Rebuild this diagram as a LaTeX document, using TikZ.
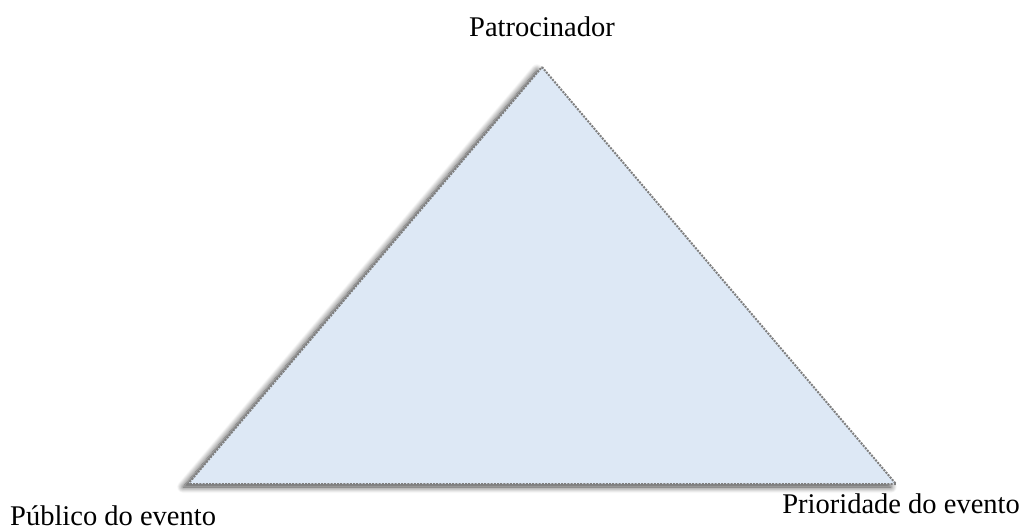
\documentclass[tikz,border=0pt]{standalone}
\usepackage{fontspec}
\setmainfont{Liberation Serif}
\usetikzlibrary{positioning,shadows.blur}

\definecolor{triFill}{HTML}{DDE8F5}
\definecolor{triEdge}{HTML}{7F7F7F}

\tikzset{
  label text/.style={font=\fontsize{28.5}{34}\selectfont, inner sep=0pt},
  triangle edge/.style={draw=triEdge, line width=2pt, dash pattern=on 2pt off 1.2pt, fill=triFill,
    blur shadow={shadow xshift=-5pt, shadow yshift=-3pt, shadow blur steps=10, shadow blur radius=6pt, shadow opacity=75}}
}

\begin{document}
\begin{tikzpicture}[x=1pt,y=-1pt]
  \useasboundingbox (0,0) rectangle (1026,532);

  % corners of the triangle
  \coordinate (top) at (542,67);
  \coordinate (left) at (188,484);
  \coordinate (right) at (896,484);

  % the triangle
  \path[triangle edge] (top) -- (right) -- (left) -- cycle;

  % labels at the corners
  \node[label text, anchor=base] (sponsor) at (542,37) {Patrocinador};
  \node[label text, anchor=base west] (audience) at (10,525) {Público do evento};
  \node[label text, anchor=base east] (priority) at (1020,513) {Prioridade do evento};
\end{tikzpicture}
\end{document}
